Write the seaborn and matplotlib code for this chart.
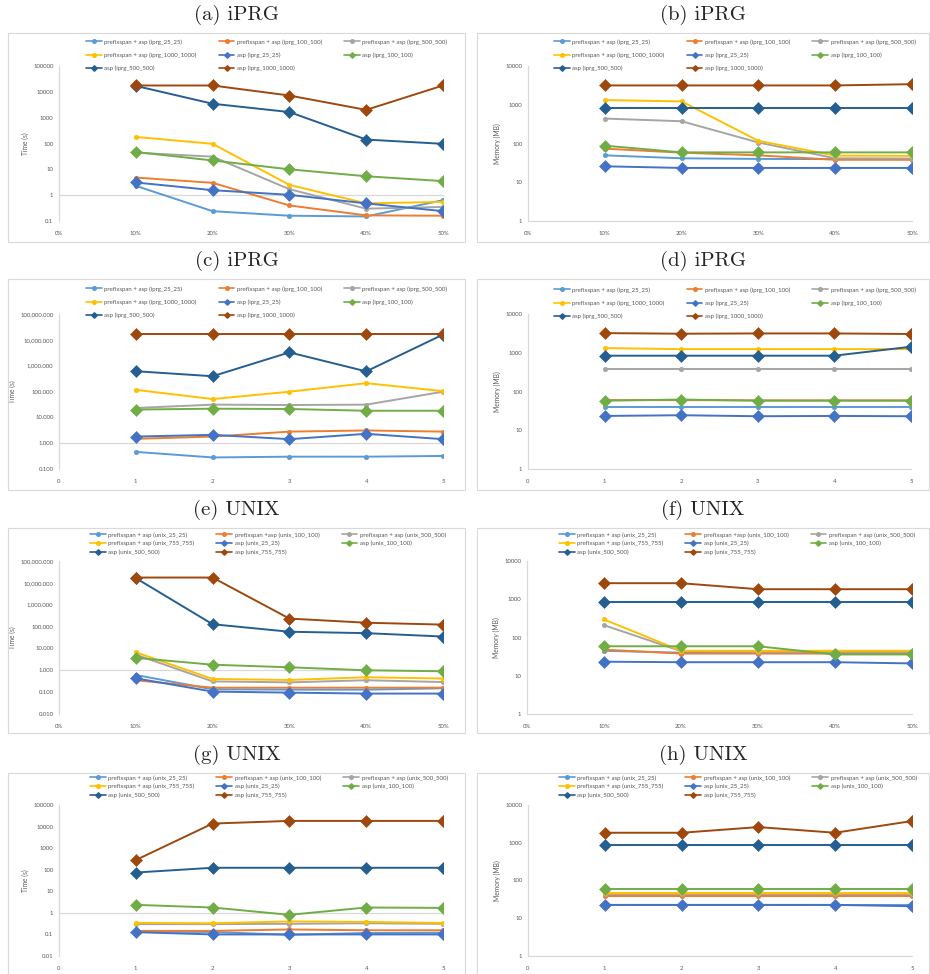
import pandas as pd
import matplotlib
matplotlib.use("Agg")
import matplotlib.pyplot as plt
import seaborn as sns
from matplotlib.lines import Line2D
from matplotlib.patches import Rectangle
from matplotlib.ticker import FixedLocator, FuncFormatter, NullLocator

sns.set_theme(style="white")
plt.rcParams['font.family'] = ['Lato', 'DejaVu Sans']

# ---- data -------------------------------------------------------------
pct_x = [0.1, 0.2, 0.3, 0.4, 0.5]
run_x = [1, 2, 3, 4, 5]

iprg_labels = ["prefixspan + asp (iprg_25_25)", "prefixspan + asp (iprg_100_100)",
               "prefixspan + asp (iprg_500_500)", "prefixspan + asp (iprg_1000_1000)",
               "asp (iprg_25_25)", "asp (iprg_100_100)",
               "asp (iprg_500_500)", "asp (iprg_1000_1000)"]
unix_labels = ["prefixspan + asp (unix_25_25)", "prefixspan +asp (unix_100_100)",
               "prefixspan + asp (unix_500_500)", "prefixspan + asp (unix_755_755)",
               "asp (unix_25_25)", "asp (unix_100_100)",
               "asp (unix_500_500)", "asp (unix_755_755)"]
unix_labels_g = [l.replace("+asp", "+ asp") for l in unix_labels]

# (a) iPRG time vs. support
a_time = [[2.3, 0.24, 0.16, 0.15, 0.64],
          [4.8, 3.0, 0.4, 0.165, 0.16],
          [44, 31, 1.7, 0.3, 0.35],
          [180, 97, 2.5, 0.48, 0.55],
          [3.1, 1.56, 1.03, 0.48, 0.24],
          [47, 22, 10, 5.4, 3.5],
          [17000, 3460, 1650, 142, 97],
          [17600, 17600, 7200, 2000, 17600]]
# (b) iPRG memory vs. support
b_mem = [[49.5, 41.5, 40, 39.5, 39.5],
         [73.6, 58, 49.5, 38, 38],
         [440, 375, 106, 41.5, 41],
         [1320, 1220, 117, 48.7, 48],
         [25.8, 23.4, 23.4, 23.4, 23.4],
         [88, 59, 59, 59, 59],
         [830, 830, 830, 830, 830],
         [3150, 3150, 3150, 3150, 3400]]
# (c) iPRG time vs. run
c_time = [[0.46, 0.28, 0.3, 0.3, 0.32],
          [1.47, 1.8, 2.8, 3.1, 2.8],
          [23, 31, 30, 31, 98],
          [116, 51, 98, 210, 103],
          [1.8, 2.1, 1.43, 2.3, 1.43],
          [20, 21.6, 21, 18, 18],
          [610, 390, 3270, 600, 16000],
          [17000, 17000, 17000, 17000, 17000]]
# (d) iPRG memory vs. run
d_mem = [[41, 41, 41, 41, 41],
         [60, 60, 59, 59, 59],
         [377, 377, 377, 377, 377],
         [1320, 1240, 1240, 1240, 1240],
         [23.4, 24.4, 23, 23.4, 23],
         [58, 62, 58, 58, 58],
         [840, 840, 840, 840, 1430],
         [3210, 3100, 3150, 3150, 3050]]
# (e) UNIX time vs. support
e_time = [[0.61, 0.135, 0.13, 0.13, 0.15],
          [0.35, 0.16, 0.16, 0.16, 0.16],
          [5.2, 0.31, 0.28, 0.35, 0.29],
          [6.7, 0.4, 0.36, 0.48, 0.42],
          [0.43, 0.106, 0.095, 0.086, 0.086],
          [3.7, 1.8, 1.37, 1.0, 0.9],
          [16500, 128, 58, 50, 35],
          [17500, 17500, 232, 150, 123]]
# (f) UNIX memory vs. support
f_mem = [[45, 40, 40, 39.5, 39],
         [48, 38, 38, 38, 38],
         [210, 44, 42, 42, 42],
         [296, 45, 45, 45, 45],
         [23.3, 22.6, 22.6, 22.6, 21],
         [59, 59, 59, 36, 36],
         [845, 845, 845, 845, 845],
         [2630, 2630, 1830, 1830, 1830]]
# (g) UNIX time vs. run
g_time = [[0.135, 0.13, 0.096, 0.116, 0.12],
          [0.146, 0.146, 0.17, 0.156, 0.156],
          [0.3, 0.3, 0.31, 0.33, 0.31],
          [0.34, 0.33, 0.4, 0.38, 0.34],
          [0.127, 0.1, 0.1, 0.1, 0.1],
          [2.35, 1.77, 0.81, 1.77, 1.7],
          [74, 123, 123, 123, 123],
          [280, 13800, 18300, 18300, 18300]]
# (h) UNIX memory vs. run
h_mem = [[22.6, 22.6, 22.6, 22.6, 22.6],
         [38, 38, 38, 38, 38],
         [43, 43, 43, 43, 43],
         [46, 46, 46, 46, 46],
         [22.6, 22.6, 22.6, 22.6, 20.8],
         [59, 59, 59, 59, 59],
         [850, 850, 850, 850, 850],
         [1840, 1840, 2600, 1840, 3760]]

# ---- style ------------------------------------------------------------
colors = ['#5B9BD5', '#ED7D31', '#A5A5A5', '#FFC000',
          '#4472C4', '#70AD47', '#255E91', '#9E480E']
markers = ['o', 'o', 'o', 'o', 'D', 'D', 'D', 'D']
msizes = [3.3, 3.3, 3.3, 3.3, 6.2, 6.2, 6.2, 6.2]
GRID = '#D9D9D9'
TXT = '#595959'
W, H = 930, 974


def rect(x0, y0, x1, y1):
    return [x0 / W, 1 - y1 / H, (x1 - x0) / W, (y1 - y0) / H]


def plain(v, _):
    return f"{v:g}"


def comma3(v, _):
    return f"{v:,.3f}"


def pct(v, _):
    return f"{v * 100:.0f}%"


def whole(v, _):
    return f"{v:.0f}"


panels = [
    # title, values, labels, x, xfmt, ylim, yfmt, ylabel, axes px, box px, legend (x, y, rowgap)
    ("(a) iPRG", a_time, iprg_labels, pct_x, pct, (0.1, 1e5), plain, "Time (s)",
     (59, 66, 443, 221), (8, 33, 465, 242), (86, 39, 1.3)),
    ("(b) iPRG", b_mem, iprg_labels, pct_x, pct, (1, 1e4), plain, "Memory (MB)",
     (528, 66, 912, 221), (477, 33, 929, 242), (554, 39, 1.3)),
    ("(c) iPRG", c_time, iprg_labels, run_x, whole, (0.1, 1e5), comma3, "Time (s)",
     (59, 314, 443, 469), (8, 279, 465, 490), (86, 286, 1.3)),
    ("(d) iPRG", d_mem, iprg_labels, run_x, whole, (1, 1e4), plain, "Memory (MB)",
     (528, 314, 911, 469), (477, 279, 929, 490), (554, 287, 1.3)),
    ("(e) UNIX", e_time, unix_labels, pct_x, pct, (0.01, 1e5), comma3, "Time (s)",
     (59, 561, 443, 714), (8, 528, 465, 733), (90, 532, 0.5)),
    ("(f) UNIX", f_mem, unix_labels, pct_x, pct, (1, 1e4), plain, "Memory (MB)",
     (527, 561, 912, 714), (477, 528, 929, 733), (559, 532, 0.5)),
    ("(g) UNIX", g_time, unix_labels_g, run_x, whole, (0.01, 1e5), plain, "Time (s)",
     (59, 805, 443, 956), (8, 773, 465, 980), (90, 775, 0.5)),
    ("(h) UNIX", h_mem, unix_labels_g, run_x, whole, (1, 1e4), plain, "Memory (MB)",
     (528, 805, 912, 956), (477, 773, 929, 980), (559, 775, 0.5)),
]

fig = plt.figure(figsize=(W / 100, H / 100), dpi=100)

for title, vals, labels, xs, xfmt, ylim, yfmt, ylabel, apx, bpx, lg in panels:
    bx0, by0, bx1, by1 = bpx
    fig.patches.append(Rectangle((bx0 / W, 1 - by1 / H), (bx1 - bx0) / W, (by1 - by0) / H,
                                 transform=fig.transFigure, fill=False,
                                 edgecolor=GRID, linewidth=0.8))
    fig.text((bx0 + bx1) / 2 / W, 1 - (by0 - 18) / H, title, ha='center', va='center',
             fontsize=15, family='cmr10')

    ax = fig.add_axes(rect(*apx))
    ax.set_yscale('log')
    for i, (lab, v) in enumerate(zip(labels, vals)):
        df = pd.DataFrame({'x': xs, 'y': v})
        sns.lineplot(data=df, x='x', y='y', ax=ax, color=colors[i], marker=markers[i],
                     markersize=msizes[i], markeredgecolor=colors[i], markeredgewidth=0.4,
                     linewidth=1.4, legend=False, zorder=3 + i)

    ax.set_xlim(0, xs[-1])
    ax.set_ylim(*ylim)
    lo, hi = ylim
    decades = []
    t = lo
    while t <= hi * 1.001:
        decades.append(t)
        t *= 10
    ax.yaxis.set_major_locator(FixedLocator(decades))
    ax.yaxis.set_minor_locator(NullLocator())
    ax.yaxis.set_major_formatter(FuncFormatter(yfmt))
    ax.xaxis.set_major_locator(FixedLocator([0] + list(xs)))
    ax.xaxis.set_major_formatter(FuncFormatter(xfmt))
    ax.tick_params(length=0, labelsize=4.3, labelcolor=TXT, pad=4)
    ax.tick_params(axis='x', pad=7)
    for s in ['top', 'right', 'bottom']:
        ax.spines[s].set_visible(False)
    ax.spines['left'].set_color(GRID)
    ax.spines['left'].set_linewidth(0.9)
    ax.axhline(1, color=GRID, linewidth=0.9, zorder=1, clip_on=False)
    ax.set_xlabel('')
    ax.set_ylabel(ylabel, fontsize=4.8, color=TXT, labelpad=3)
    ax.grid(False)
    ax.set_facecolor('none')

    handles = [Line2D([], [], color=colors[i], marker=markers[i],
                      markersize=2.6 if markers[i] == 'o' else 2.8, linewidth=1.2)
               for i in range(8)]
    order = [0, 3, 6, 1, 4, 7, 2, 5]
    lx, ly, gap = lg
    ax.legend([handles[k] for k in order], [labels[k] for k in order], ncol=3,
              loc='upper left', bbox_to_anchor=(lx / W, 1 - ly / H),
              bbox_transform=fig.transFigure, frameon=False, fontsize=4.4,
              labelcolor=TXT, handlelength=2.6, handletextpad=0.4,
              columnspacing=3.6, labelspacing=gap, borderpad=0, borderaxespad=0)

fig.savefig("out.png", dpi=100)
